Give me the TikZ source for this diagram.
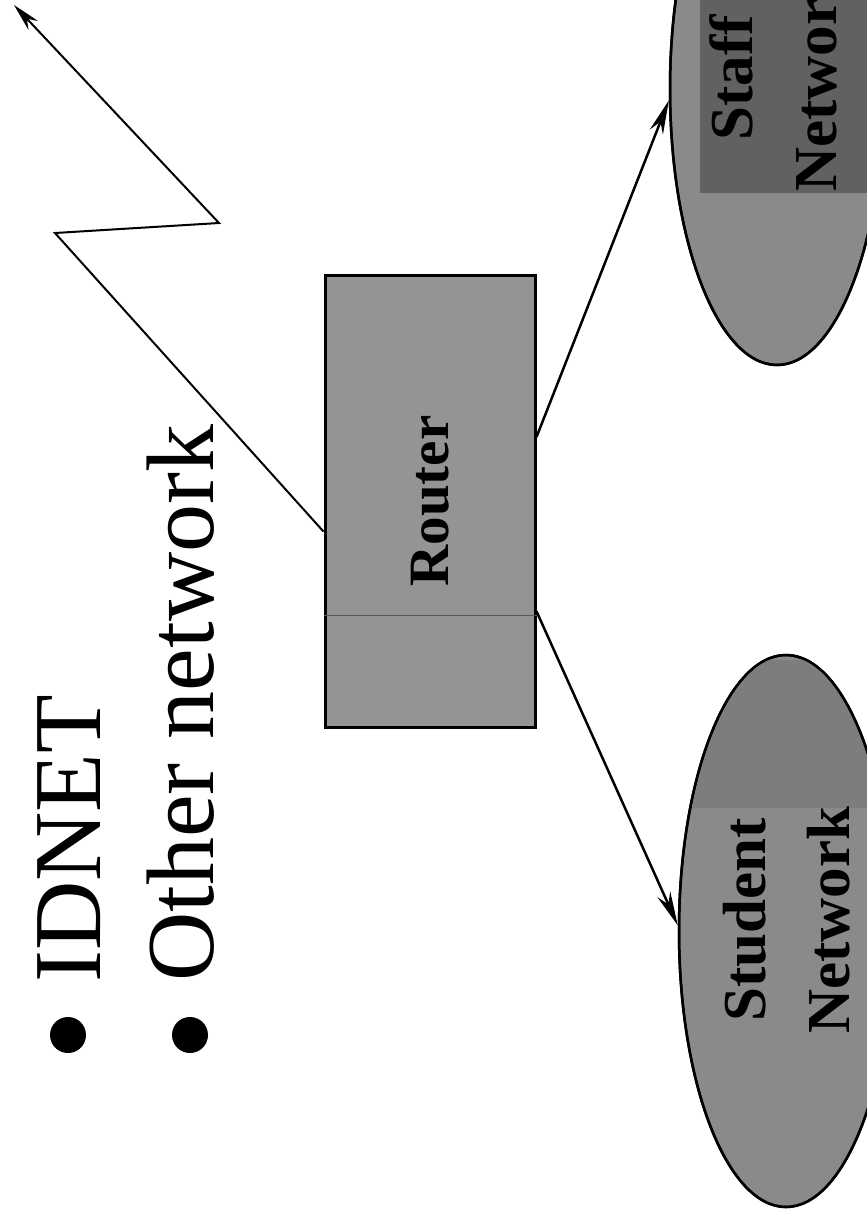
\documentclass[tikz,border=0pt]{standalone}
\usepackage{fontspec}
\setmainfont{Liberation Serif}
\usetikzlibrary{shapes.geometric,arrows.meta}
\begin{document}
\begin{tikzpicture}[x=1pt,y=-1pt,
  routerbox/.style={draw,line width=3pt,fill=black!42,minimum width=210pt,minimum height=452pt,inner sep=0pt,font=\bfseries\fontsize{57}{60}\selectfont},
  netell/.style={ellipse,draw,line width=2.5pt,fill=black!46,minimum width=214pt,minimum height=552pt,inner sep=0pt},
  nettext/.style={rotate=90,align=center,inner sep=0pt,font=\bfseries\fontsize{61}{84}\selectfont},
  bullettext/.style={rotate=90,anchor=base west,inner sep=0pt,font=\fontsize{96}{110}\selectfont},
  bulletdot/.style={circle,fill=black,minimum size=36pt,inner sep=0pt},
  link/.style={line width=2.5pt,-{Stealth[length=34pt,width=14pt]}},
  zig/.style={line width=2pt,-{Stealth[length=28pt,width=13pt]}}]
\useasboundingbox (0,0) rectangle (867,1211);
\fill[white] (0,0) rectangle (867,1211);
\clip (0,0) rectangle (867,1211);

% bullets and text
\node[bulletdot] (b1) at (68,1035) {};
\node[bulletdot] (b2) at (190,1035) {};
\node[bullettext] (idnet) at (100,983) {IDNET};
\node[bullettext] (other) at (213,982) {Other network};

% router
\node[routerbox] (router) at (430,501) {\rotatebox{90}{Router}};
\draw[black!65,line width=0.8pt] (router.west |- 0,615) -- (router.east |- 0,615);

% staff network
\node[netell] (staff) at (777,89) {};
\begin{scope}
  \clip (staff.center) ellipse [x radius=106, y radius=275];
  \fill[black!62] (700,-10) rectangle (880,193);
\end{scope}
\draw[line width=2.5pt] (staff.center) ellipse [x radius=107, y radius=276];
\node[nettext] (stafflbl) at (773,78) {Staff\\Network};

% student network
\node[netell] (student) at (786,931) {};
\begin{scope}
  \clip (student.center) ellipse [x radius=105, y radius=275];
  \fill[black!51] (690,660) rectangle (880,808);
\end{scope}
\draw[line width=2.5pt] (student.center) ellipse [x radius=107, y radius=276];
\node[nettext] (studentlbl) at (787,920) {Student\\Network};

% connectors
\coordinate (z1) at (55,233);
\coordinate (z2) at (219,223);
\coordinate (z3) at (14,5);
\draw[zig] (router.196) -- (z1) -- (z2) -- (z3);
\draw[link] (router.31.7) -- (staff.186);
\draw[link] (router.-46.8) -- (student.177);
\end{tikzpicture}
\end{document}
